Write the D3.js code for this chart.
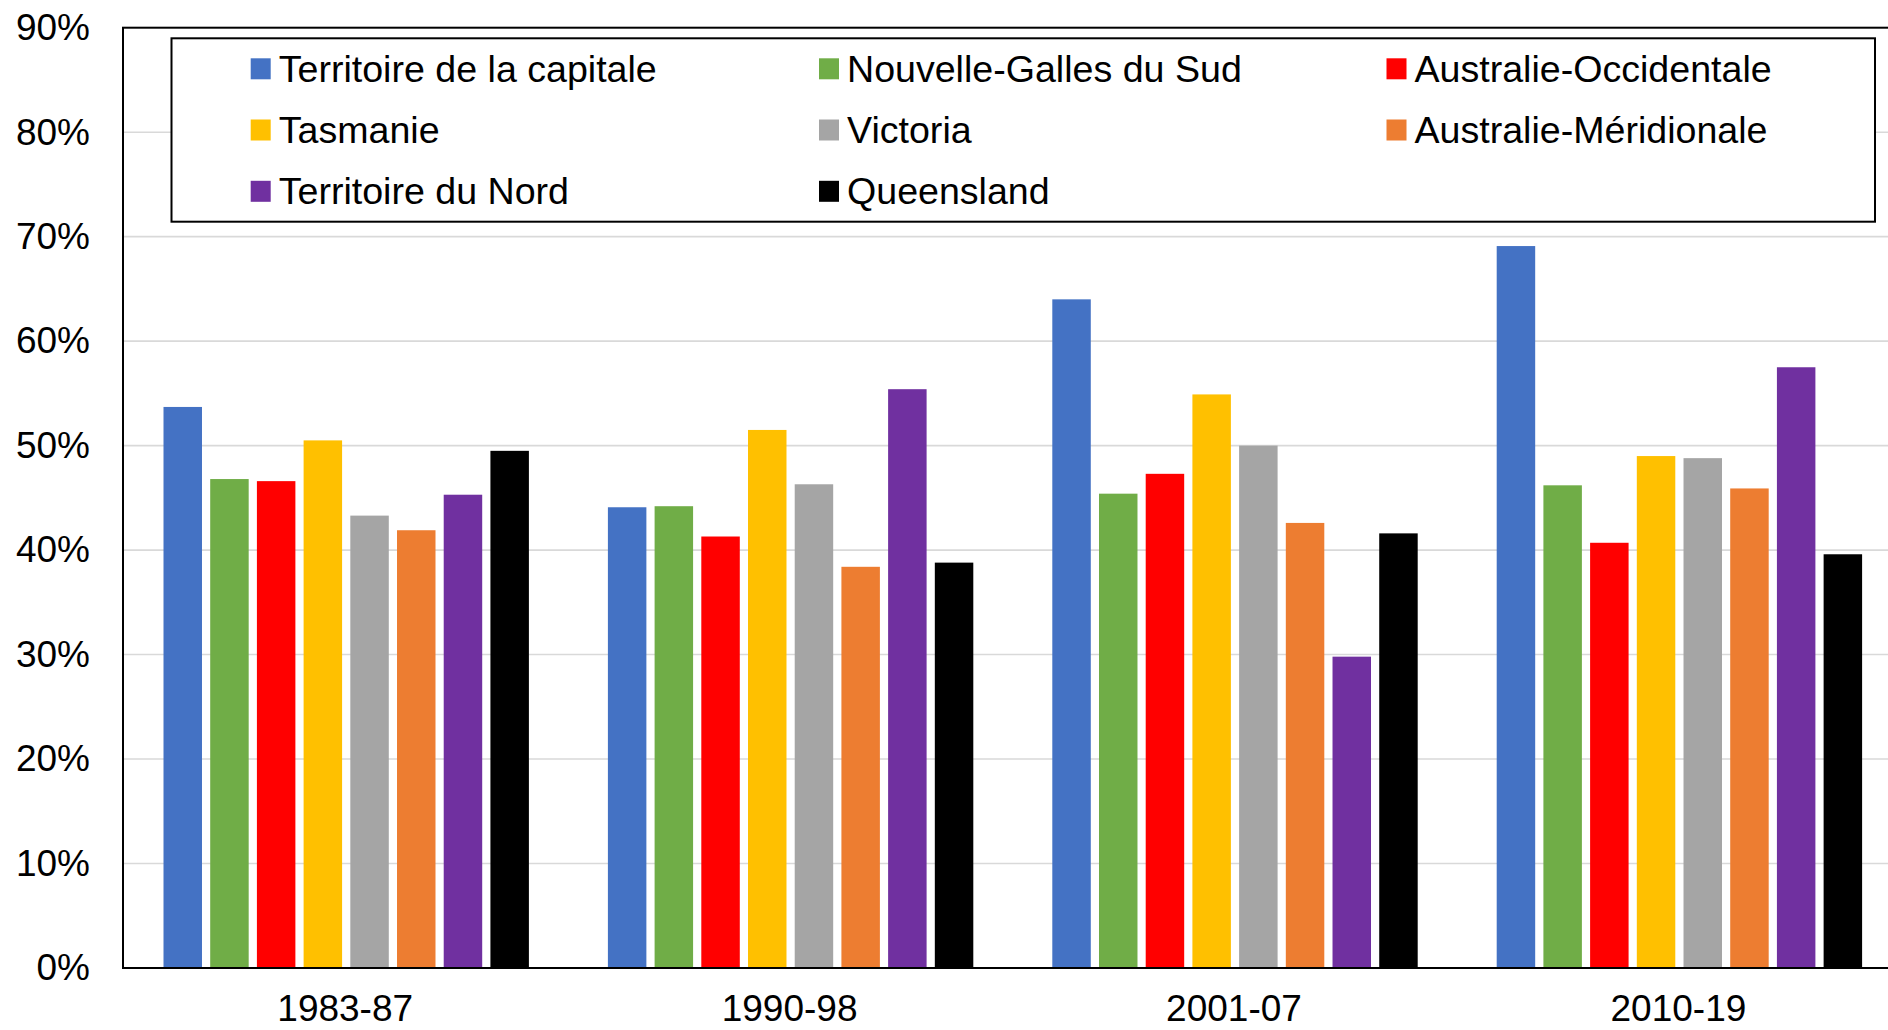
<!DOCTYPE html>
<html>
<head>
<meta charset="utf-8">
<script src="https://cdn.jsdelivr.net/npm/d3@7"></script>
<style>
  html, body { margin: 0; padding: 0; background: #fff; }
  svg { display: block; }
  text { font-family: "Liberation Sans", Arial, sans-serif; fill: #000; }
</style>
</head>
<body>
<svg id="chart" width="1888" height="1030"></svg>
<script>
// ---- data ----
const categories = ["1983-87", "1990-98", "2001-07", "2010-19"];
const seriesNames = [
  "Territoire de la capitale", "Nouvelle-Galles du Sud", "Australie-Occidentale",
  "Tasmanie", "Victoria", "Australie-Méridionale",
  "Territoire du Nord", "Queensland"
];
const seriesColors = ["#4472C4", "#70AD47", "#FF0000", "#FFC000", "#A5A5A5", "#ED7D31", "#7030A0", "#000000"];
const capitale   = [53.7, 44.1, 64.0, 69.1];
const nsw        = [46.8, 44.2, 45.4, 46.2];
const occidentale= [46.6, 41.3, 47.3, 40.7];
const tasmanie   = [50.5, 51.5, 54.9, 49.0];
const victoria   = [43.3, 46.3, 50.0, 48.8];
const meridionale= [41.9, 38.4, 42.6, 45.9];
const nord       = [45.3, 55.4, 29.8, 57.5];
const queensland = [49.5, 38.8, 41.6, 39.6];
const seriesValues = [capitale, nsw, occidentale, tasmanie, victoria, meridionale, nord, queensland];
const yTicks = [0, 10, 20, 30, 40, 50, 60, 70, 80, 90];
const yTickLabels = ["0%", "10%", "20%", "30%", "40%", "50%", "60%", "70%", "80%", "90%"];

// ---- layout ----
const svg = d3.select("#chart");
svg.append("rect").attr("width", 1888).attr("height", 1030).attr("fill", "#fff");

const plotLeft = 123, plotTop = 27.7, plotBottom = 968, bandW = 444.4;
const plotRight = plotLeft + bandW * categories.length;

const y = d3.scaleLinear().domain([0, 90]).range([plotBottom, plotTop]);
const x0 = d3.scaleBand().domain(categories).range([plotLeft, plotRight]).padding(0);
const groupPad = (bandW - 365.4) / 2;
const x1 = d3.scaleBand().domain(d3.range(seriesNames.length))
  .range([groupPad + 1, bandW - groupPad + 1]).paddingInner(0.176).paddingOuter(0);

// gridlines
svg.append("g").selectAll("line").data(yTicks.filter(t => t > 0 && t < 90)).join("line")
  .attr("x1", plotLeft).attr("x2", plotRight)
  .attr("y1", d => y(d)).attr("y2", d => y(d))
  .attr("stroke", "#d9d9d9").attr("stroke-width", 1.6);

// bars
const groups = svg.append("g").selectAll("g").data(categories).join("g")
  .attr("transform", d => `translate(${x0(d)},0)`);
groups.selectAll("rect").data((c, ci) => seriesValues.map((arr, si) => ({ si, v: arr[ci] }))).join("rect")
  .attr("x", d => x1(d.si))
  .attr("width", x1.bandwidth())
  .attr("y", d => y(d.v))
  .attr("height", d => y(0) - y(d.v))
  .attr("fill", d => seriesColors[d.si]);

// plot border
svg.append("rect")
  .attr("x", plotLeft).attr("y", plotTop)
  .attr("width", plotRight - plotLeft).attr("height", plotBottom - plotTop)
  .attr("fill", "none").attr("stroke", "#000").attr("stroke-width", 2);

// y axis labels
const yAxis = d3.axisLeft(y).tickValues(yTicks).tickFormat((d, i) => yTickLabels[i]).tickSize(0).tickPadding(33);
const yg = svg.append("g").attr("transform", `translate(${plotLeft},0)`).call(yAxis);
yg.select(".domain").remove();
yg.selectAll("text").attr("font-size", 37).attr("font-family", '"Liberation Sans", Arial, sans-serif').attr("fill", "#000");

// x axis labels
const xAxis = d3.axisBottom(x0).tickSize(0).tickPadding(27);
const xg = svg.append("g").attr("transform", `translate(0,${plotBottom})`).call(xAxis);
xg.select(".domain").remove();
xg.selectAll("text").attr("font-size", 37).attr("font-family", '"Liberation Sans", Arial, sans-serif').attr("fill", "#000");

// legend
const legend = svg.append("g");
legend.append("rect").attr("x", 171.5).attr("y", 38.3).attr("width", 1875 - 171.5).attr("height", 221.7 - 38.3)
  .attr("fill", "#fff").attr("stroke", "#000").attr("stroke-width", 2);
const colX = [250.7, 819, 1386.5];
const rowY = [68.8, 130, 191.3];
const items = legend.selectAll("g.item").data(seriesNames).join("g").attr("class", "item")
  .attr("transform", (d, i) => `translate(${colX[i % 3]},${rowY[Math.floor(i / 3)]})`);
items.append("rect").attr("x", 0).attr("y", -10.5).attr("width", 20).attr("height", 21)
  .attr("fill", (d, i) => seriesColors[i]);
items.append("text").attr("x", 28).attr("y", 13).attr("font-size", 37.6).text(d => d);
</script>
</body>
</html>
